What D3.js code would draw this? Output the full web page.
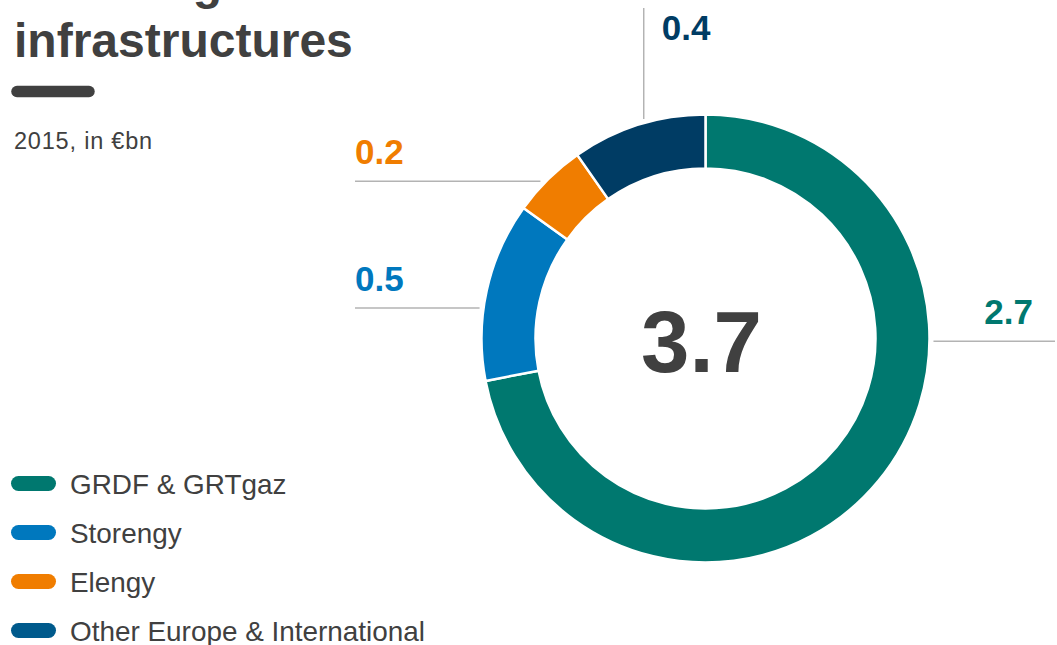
<!DOCTYPE html>
<html>
<head>
<meta charset="utf-8">
<script src="https://cdn.jsdelivr.net/npm/d3@7"></script>
<style>
  html, body { margin: 0; padding: 0; background: #ffffff; }
  svg { display: block; }
  text { font-family: "Liberation Sans", Arial, Helvetica, sans-serif; }
</style>
</head>
<body>
<svg id="chart" width="1057" height="645"></svg>
<script>
// ---- Data ----
const categories = ["GRDF & GRTgaz", "Storengy", "Elengy", "Other Europe & International"];
const values = [2.67, 0.48, 0.20, 0.36];
const arcColors = ["#00786F", "#0078BE", "#F07D00", "#003C64"];
const legendColors = ["#00786F", "#0078BE", "#F07D00", "#005A8C"];
const titleLines = ["Natural gas", "infrastructures"];
const subtitle = "2015, in €bn";

// ---- Layout ----
const W = 1057, H = 645;
const cx = 705.5, cy = 338.5;
const rOuter = 224, rInner = 170;
const textDark = "#404040";
const leaderColor = "#b3b3b3";
// per-slice label layout: where along the slice the leader starts, and its direction
const labelLayout = [
  { t: 0.35, dir: "right", end: 1055 },
  { t: 0.40, dir: "left",  end: 355 },
  { t: 0.41, dir: "left",  end: 355 },
  { t: 0.55, dir: "up",    end: 8 }
];

const svg = d3.select("#chart");
const fmt = d3.format(".1f");

// Title
svg.selectAll("text.title").data(titleLines).join("text")
  .attr("class", "title")
  .attr("x", 14)
  .attr("y", (d, i) => -1 + i * 58)
  .attr("font-size", 48)
  .attr("font-weight", "bold")
  .attr("fill", textDark)
  .text(d => d);

svg.append("line")
  .attr("x1", 17).attr("x2", 89)
  .attr("y1", 91.5).attr("y2", 91.5)
  .attr("stroke", textDark)
  .attr("stroke-width", 11.5)
  .attr("stroke-linecap", "round");

svg.append("text")
  .attr("x", 14).attr("y", 149)
  .attr("font-size", 23.5)
  .attr("letter-spacing", 0.8)
  .attr("fill", textDark)
  .text(subtitle);

// Donut
const pie = d3.pie().sort(null).value(d => d)
  .startAngle(0).endAngle(2 * Math.PI);
const arcs = pie(values);
const arcGen = d3.arc().innerRadius(rInner).outerRadius(rOuter);

const g = svg.append("g").attr("transform", `translate(${cx},${cy})`);
g.selectAll("path").data(arcs).join("path")
  .attr("d", arcGen)
  .attr("fill", (d, i) => arcColors[i])
  .attr("stroke", "#ffffff")
  .attr("stroke-width", 2.5)
  .attr("stroke-linejoin", "miter");

// Centre total
const total = d3.sum(values);
svg.append("text")
  .attr("x", cx - 4).attr("y", cy + 33)
  .attr("text-anchor", "middle")
  .attr("font-size", 87)
  .attr("font-weight", "bold")
  .attr("fill", textDark)
  .text(fmt(total));

// Leaders and value labels
arcs.forEach((a, i) => {
  const L = labelLayout[i];
  const ang = a.startAngle + L.t * (a.endAngle - a.startAngle);
  const r = rOuter + 4;
  const px = cx + r * Math.sin(ang);
  const py = cy - r * Math.cos(ang);
  let x2 = px, y2 = py;
  if (L.dir === "left" || L.dir === "right") x2 = L.end; else y2 = L.end;
  svg.append("line")
    .attr("x1", px).attr("y1", py).attr("x2", x2).attr("y2", y2)
    .attr("stroke", leaderColor).attr("stroke-width", 1.5);
  const t = svg.append("text")
    .attr("font-size", 35)
    .attr("font-weight", "bold")
    .attr("fill", arcColors[i])
    .text(fmt(values[i]));
  if (L.dir === "left") {
    t.attr("x", x2).attr("y", py - 17);
  } else if (L.dir === "right") {
    t.attr("x", x2 - 22).attr("y", py - 17).attr("text-anchor", "end");
  } else {
    t.attr("x", px + 18).attr("y", y2 + 32);
  }
});

// Legend
const leg = svg.selectAll("g.leg").data(categories).join("g")
  .attr("class", "leg")
  .attr("transform", (d, i) => `translate(0,${483.5 + i * 49})`);
leg.append("rect")
  .attr("x", 11).attr("y", -7.5)
  .attr("width", 45).attr("height", 15)
  .attr("rx", 7.5)
  .attr("fill", (d, i) => legendColors[i]);
leg.append("text")
  .attr("x", 70).attr("y", 10.5)
  .attr("font-size", 27.9)
  .attr("fill", textDark)
  .text(d => d);
</script>
</body>
</html>
